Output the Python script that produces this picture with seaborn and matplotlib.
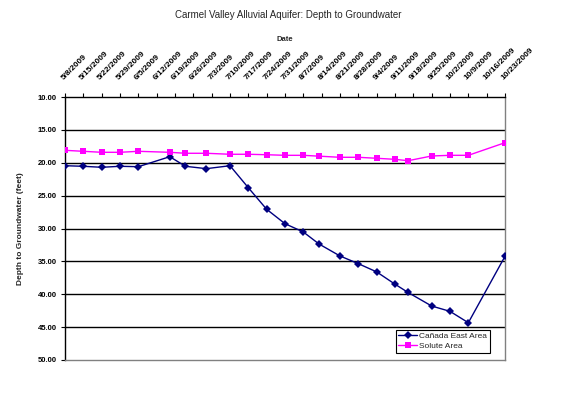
import matplotlib
matplotlib.use('Agg')
import matplotlib.pyplot as plt
import seaborn as sns
import pandas as pd

# sample dates (2009)
dates = ['2009-05-08', '2009-05-15', '2009-05-22', '2009-05-29', '2009-06-05',
         '2009-06-17', '2009-06-23', '2009-07-01', '2009-07-10', '2009-07-17',
         '2009-07-24', '2009-07-31', '2009-08-07', '2009-08-13', '2009-08-21',
         '2009-08-28', '2009-09-04', '2009-09-11', '2009-09-16', '2009-09-25',
         '2009-10-02', '2009-10-09', '2009-10-23']

canada_east = [20.45, 20.54, 20.69, 20.54, 20.60, 19.08, 20.54, 20.90, 20.45, 23.80,
               27.08, 29.27, 30.53, 32.36, 34.18, 35.35, 36.60, 38.47, 39.73, 41.79,
               42.60, 44.33, 34.23]

solute = [18.11, 18.26, 18.41, 18.41, 18.26, 18.41, 18.56, 18.56, 18.71, 18.71,
          18.78, 18.87, 18.87, 19.00, 19.17, 19.17, 19.32, 19.48, 19.69, 18.97,
          18.87, 18.87, 16.95]

series_names = ['Cañada East Area', 'Solute Area']
tick_dates = pd.date_range('2009-05-08', '2009-10-23', freq='7D')
tick_labels = [f'{d.month}/{d.day}/{d.year}' for d in tick_dates]
y_ticks = [10, 15, 20, 25, 30, 35, 40, 45, 50]

df = pd.DataFrame({
    'Date': pd.to_datetime(dates * 2),
    'Depth': canada_east + solute,
    'Well': [series_names[0]] * len(dates) + [series_names[1]] * len(dates),
})

sns.set_style('white')
plt.rcParams['font.family'] = ['Liberation Sans', 'DejaVu Sans']

fig = plt.figure(figsize=(5.76, 3.93), dpi=100)
ax = fig.add_axes([65 / 576, 1 - 360 / 393, 440 / 576, 263 / 393])

for y in y_ticks[1:-1]:
    ax.axhline(y, color='black', lw=1, zorder=1)

sns.lineplot(data=df, x='Date', y='Depth', hue='Well', style='Well',
             palette=['#000080', '#FF00FF'], markers=['D', 's'], dashes=False,
             markersize=4.5, markeredgewidth=0, lw=1, ax=ax, zorder=3)

ax.set_xlim(tick_dates[0], tick_dates[-1])
ax.set_ylim(50, 10)
ax.set_yticks(y_ticks)
ax.set_yticklabels([f'{v:.2f}' for v in y_ticks], fontsize=5.5, fontweight='bold')
ax.xaxis.tick_top()
ax.xaxis.set_label_position('top')
ax.set_xticks(tick_dates)
ax.set_xticklabels(tick_labels, rotation=45, ha='left', va='bottom',
                   rotation_mode='anchor', fontsize=6, fontweight='bold')
ax.tick_params(axis='x', which='major', direction='out', length=3, pad=8,
               top=True, bottom=False, colors='black')
ax.tick_params(axis='y', direction='out', length=3, pad=3, left=True, colors='black')
ax.set_xlabel('Date', fontsize=5.5, fontweight='bold', labelpad=4)
ax.set_ylabel('Depth to Groundwater (feet)', fontsize=6, fontweight='bold', labelpad=10)

for side in ['top', 'left']:
    ax.spines[side].set_color('black')
    ax.spines[side].set_linewidth(1)
for side in ['bottom', 'right']:
    ax.spines[side].set_color('#808080')
    ax.spines[side].set_linewidth(1)

leg = ax.legend(loc='lower left', bbox_to_anchor=(0.752, 0.027), borderaxespad=0,
                fontsize=6, frameon=True, fancybox=False, framealpha=1,
                edgecolor='black', handlelength=2.2, handletextpad=0.3,
                borderpad=0.3, labelspacing=0.3, title=None)
leg.get_frame().set_linewidth(0.8)

fig.suptitle('Carmel Valley Alluvial Aquifer: Depth to Groundwater',
             fontsize=7, y=1 - 10 / 393, va='top')

fig.savefig('out.png', dpi=100)
